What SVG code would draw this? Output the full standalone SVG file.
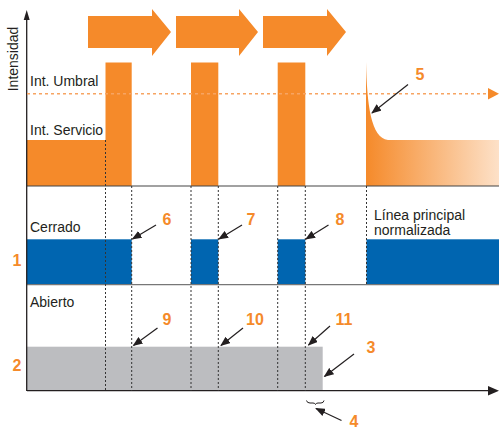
<svg xmlns="http://www.w3.org/2000/svg" width="499" height="429" viewBox="0 0 499 429">
<style>
.lbl{font-family:"Liberation Sans",Arial,sans-serif;font-size:14px;fill:#231f20}
.num{font-family:"Liberation Sans",Arial,sans-serif;font-size:16px;font-weight:bold;fill:#f58a2a}
.org{fill:#f58a2a}
.blue{fill:#0065b0}
.gray{fill:#bcbdc0}
.vd{stroke:#333;stroke-width:1;stroke-dasharray:2 2;fill:none}
.call{stroke:#231f20;stroke-width:1.2;fill:none;marker-end:url(#ah)}
</style>
<defs>
<marker id="ah" markerUnits="userSpaceOnUse" markerWidth="10" markerHeight="8" refX="9" refY="4" orient="auto">
<path d="M0,0 L10,4 L0,8 Z" fill="#231f20"/>
</marker>
<linearGradient id="fade" x1="366" y1="0" x2="499" y2="0" gradientUnits="userSpaceOnUse">
<stop offset="0" stop-color="#f58a2a"/>
<stop offset="1" stop-color="#fde1c8"/>
</linearGradient>
</defs>

<g id="flow-arrows">
<path class="org" d="M88,16 H152 V9 L171,32 L152,56 V48 H88 Z"/>
<path class="org" d="M176,16 H239 V9 L258,32 L239,56 V48 H176 Z"/>
<path class="org" d="M263,16 H327 V9 L346,32 L327,56 V48 H263 Z"/>
</g>

<g id="intensity">
<path class="org" d="M27,140 H105.5 V62.5 H131.7 V186 H27 Z"/>
<rect class="org" x="191" y="62.5" width="27.3" height="123.5"/>
<rect class="org" x="277.7" y="62.5" width="27.6" height="123.5"/>
<path fill="url(#fade)" d="M366,186 V62 C367,105 371,138 388,140 H499 V186 Z"/>
</g>

<g id="state1">
<rect class="blue" x="27" y="239.3" width="104.7" height="45.4"/>
<rect class="blue" x="191" y="239.3" width="27.3" height="45.4"/>
<rect class="blue" x="277.7" y="239.3" width="27.6" height="45.4"/>
<rect class="blue" x="366.5" y="239.3" width="132.5" height="45.4"/>
</g>

<g id="state2">
<rect class="gray" x="27" y="346.7" width="295.7" height="44"/>
</g>

<g id="axes">
<line x1="27" y1="186" x2="499" y2="186" stroke="#444" stroke-width="1.2"/>
<line x1="27" y1="284.7" x2="499" y2="284.7" stroke="#777" stroke-width="1.2"/>
<line x1="27" y1="390.7" x2="489" y2="390.7" stroke="#231f20" stroke-width="1.3"/>
<path d="M488,386 L499,390.7 L488,395.4 Z" fill="#231f20"/>
<line x1="26.7" y1="391" x2="26.7" y2="18" stroke="#231f20" stroke-width="1.3"/>
<path d="M23.7,20 L26.7,10 L29.7,20 Z" fill="#231f20"/>
<line x1="27" y1="93.7" x2="489" y2="93.7" stroke="#f7a462" stroke-width="1.5" stroke-dasharray="3 3"/>
<path d="M488,88 L499,93.7 L488,99.4 Z" fill="#f58a2a"/>
</g>

<g id="timelines">
<line class="vd" x1="105.5" y1="140" x2="105.5" y2="391"/>
<line class="vd" x1="131.7" y1="186" x2="131.7" y2="391"/>
<line class="vd" x1="191" y1="186" x2="191" y2="391"/>
<line class="vd" x1="218.3" y1="186" x2="218.3" y2="391"/>
<line class="vd" x1="277.7" y1="186" x2="277.7" y2="391"/>
<line class="vd" x1="305.3" y1="186" x2="305.3" y2="391"/>
<line class="vd" x1="366.5" y1="186" x2="366.5" y2="285"/>
</g>

<g id="connectors">
<line class="call" x1="408" y1="84.5" x2="372" y2="113"/>
<line class="call" x1="156" y1="225" x2="132.5" y2="239"/>
<line class="call" x1="242" y1="225" x2="219" y2="239"/>
<line class="call" x1="328.5" y1="225" x2="306" y2="239"/>
<line class="call" x1="157.5" y1="328" x2="133.5" y2="345.5"/>
<line class="call" x1="243" y1="328" x2="221" y2="345.5"/>
<line class="call" x1="330" y1="326" x2="308.5" y2="345"/>
<line class="call" x1="354" y1="354" x2="324.5" y2="376.5"/>
<line class="call" x1="341.5" y1="420.5" x2="316" y2="408.5"/>
<path d="M306.5,400.5 Q307,403 310,403 H313 Q315,403 315.5,404.5 Q316,403 318,403 H321 Q323.5,403 324,400.5" stroke="#231f20" stroke-width="1" fill="none"/>
</g>

<g id="labels">
<text class="lbl" transform="translate(18,59) rotate(-90)" text-anchor="middle">Intensidad</text>
<text class="lbl" x="30" y="86">Int. Umbral</text>
<text class="lbl" x="30" y="134.5">Int. Servicio</text>
<text class="lbl" x="30" y="232">Cerrado</text>
<text class="lbl" x="30" y="307">Abierto</text>
<text class="lbl" x="374" y="220">Línea principal</text>
<text class="lbl" x="374" y="235">normalizada</text>
<text class="num" x="12.5" y="266">1</text>
<text class="num" x="12.5" y="371">2</text>
<text class="num" x="366.5" y="353">3</text>
<text class="num" x="349.5" y="427">4</text>
<text class="num" x="415.5" y="80">5</text>
<text class="num" x="162.5" y="225">6</text>
<text class="num" x="246.5" y="225">7</text>
<text class="num" x="335.5" y="225">8</text>
<text class="num" x="162.5" y="325">9</text>
<text class="num" x="246" y="325">10</text>
<text class="num" x="335.5" y="325">11</text>
</g>
</svg>
